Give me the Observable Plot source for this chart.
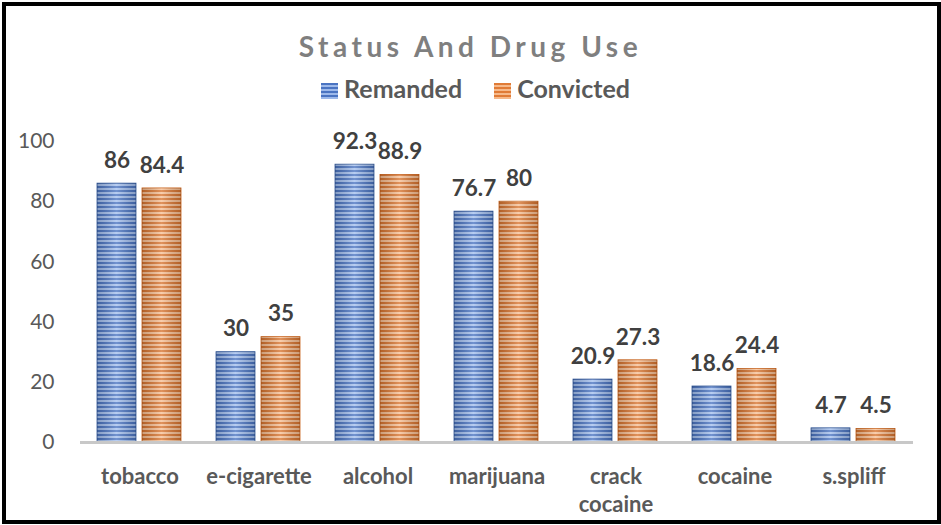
<!DOCTYPE html>
<html>
<head>
<meta charset="utf-8">
<script src="https://cdn.jsdelivr.net/npm/d3@7"></script>
<script src="https://cdn.jsdelivr.net/npm/@observablehq/plot@0.6"></script>
<style>
  html, body { margin: 0; padding: 0; background: #fff; }
  #wrap { position: relative; width: 941px; height: 525px; overflow: hidden; font-family: Lato, "Open Sans", sans-serif; }
  #frame { position: absolute; left: 2px; top: 2px; width: 939px; height: 522px; box-sizing: border-box; border: 4px solid #000; }
  #title { position: absolute; left: 0; width: 941px; top: 29px; text-align: center; font-size: 28px; font-weight: bold; letter-spacing: 4.5px; color: #7f7f7f; }
  #legend { position: absolute; left: 0; width: 951px; top: 73px; text-align: center; font-size: 25px; font-weight: bold; color: #595959; white-space: nowrap; }
  #legend span.item { display: inline-block; margin: 0 16px; }
  #legend span.sw { display: inline-block; width: 17px; height: 16px; margin-right: 6px; vertical-align: -1px; }
  #chart { position: absolute; left: 0; top: 110px; }
  #chart svg { overflow: visible; }
</style>
</head>
<body>
<div id="wrap">
  <div id="title">Status And Drug Use</div>
  <div id="legend"></div>
  <div id="chart"></div>
  <div id="frame"></div>
</div>
<script>
const categories = ["tobacco", "e-cigarette", "alcohol", "marijuana", "crack cocaine", "cocaine", "s.spliff"];
const series = ["Remanded", "Convicted"];
const remanded = [86, 30, 92.3, 76.7, 20.9, 18.6, 4.7];
const convicted = [84.4, 35, 88.9, 80, 27.3, 24.4, 4.5];
const yTicks = [0, 20, 40, 60, 80, 100];

const data = [];
categories.forEach((c, i) => {
  data.push({category: c, series: "Remanded", value: remanded[i]});
  data.push({category: c, series: "Convicted", value: convicted[i]});
});

const fills = ["url(#stripeBlue)", "url(#stripeOrange)"];
const strokes = ["#2f5597", "#c55a11"];

// legend
const legend = document.getElementById("legend");
series.forEach((s, i) => {
  const item = document.createElement("span");
  item.className = "item";
  const sw = document.createElement("span");
  sw.className = "sw";
  sw.style.background = i === 0
    ? "repeating-linear-gradient(#4a74c2 0 2px, #9db9ea 2px 4px)"
    : "repeating-linear-gradient(#e07b36 0 2px, #f6b98a 2px 4px)";
  item.appendChild(sw);
  item.appendChild(document.createTextNode(s));
  legend.appendChild(item);
});

const chart = Plot.plot({
  width: 941,
  height: 415,
  marginTop: 31,
  marginBottom: 83,
  marginLeft: 78,
  marginRight: 27,
  style: {fontFamily: "Lato, 'Open Sans', sans-serif", color: "#595959", background: "transparent"},
  fx: {domain: categories, padding: 0, label: null},
  x: {domain: series, paddingInner: 0.13, paddingOuter: 0.364, axis: null},
  y: {domain: [0, 100], label: null},
  color: {type: "ordinal", domain: series, range: fills},
  marks: [
    Plot.axisY({ticks: yTicks, tickSize: 0, tickPadding: 26, fontSize: 21, fill: "#595959", label: null}),
    Plot.axisFx({anchor: "bottom", tickSize: 0, tickPadding: 21, fontSize: 22, fontWeight: "bold", fill: "#595959",
      lineHeight: 1.3, label: null, tickFormat: d => d.replace(" ", "\n")}),
    Plot.barY(data, {fx: "category", x: "series", y: "value", fill: "series",
      stroke: d => strokes[series.indexOf(d.series)], strokeWidth: 0.8}),
    Plot.barY(data, {fx: "category", x: "series", y: "value", fill: "url(#shade)"}),
    Plot.ruleY([0], {stroke: "#c8c8c8", strokeWidth: 3}),
    Plot.text(data, {fx: "category", x: "series", y: "value", text: d => String(d.value),
      dy: -23, lineAnchor: "middle", fontSize: 22.5, fontWeight: "bold", fill: "#404040"})
  ]
});

document.getElementById("chart").appendChild(chart);

const svg = d3.select(chart.tagName.toLowerCase() === "svg" ? chart : chart.querySelector("svg"));
const defs = svg.insert("defs", ":first-child");
function stripes(id, dark, light) {
  const p = defs.append("pattern").attr("id", id).attr("patternUnits", "userSpaceOnUse")
    .attr("width", 8).attr("height", 4);
  p.append("rect").attr("width", 8).attr("height", 4).attr("fill", dark);
  p.append("rect").attr("y", 2).attr("width", 8).attr("height", 2).attr("fill", light);
}
stripes("stripeBlue", "#4a74c2", "#a3bfee");
stripes("stripeOrange", "#d8742f", "#f7bf94");
const g = defs.append("linearGradient").attr("id", "shade").attr("x1", 0).attr("x2", 1).attr("y1", 0).attr("y2", 0);
g.append("stop").attr("offset", "0%").attr("stop-color", "#000").attr("stop-opacity", 0.18);
g.append("stop").attr("offset", "50%").attr("stop-color", "#fff").attr("stop-opacity", 0.22);
g.append("stop").attr("offset", "100%").attr("stop-color", "#000").attr("stop-opacity", 0.18);
</script>
</body>
</html>
